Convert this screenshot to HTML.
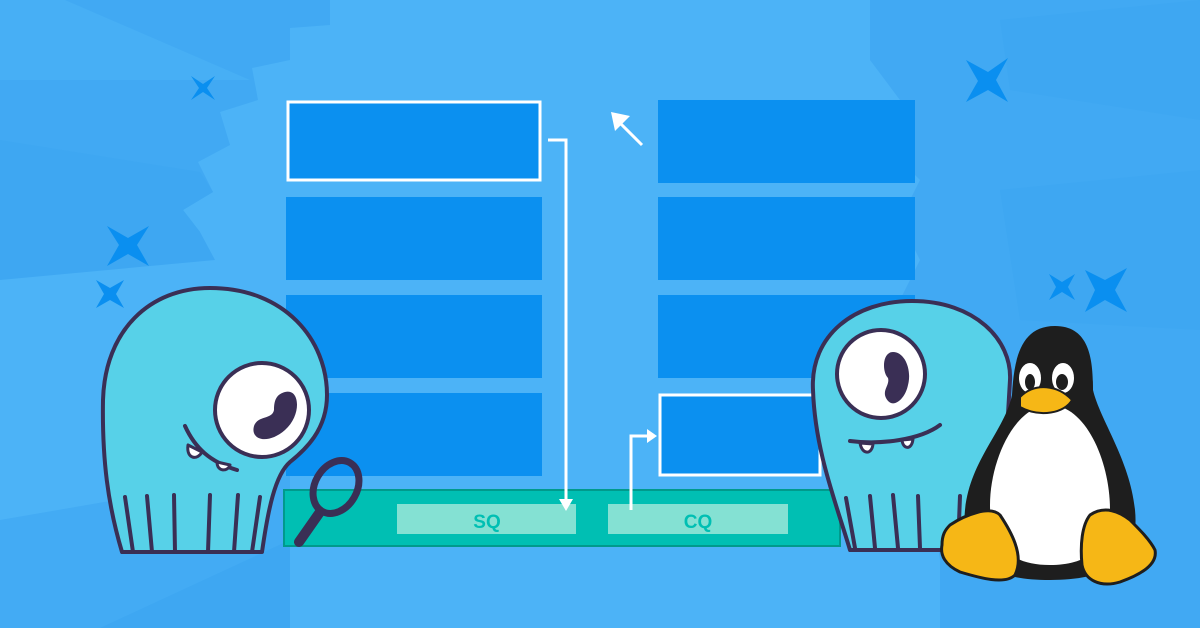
<!DOCTYPE html>
<html><head><meta charset="utf-8"><style>
html,body{margin:0;padding:0;width:1200px;height:628px;overflow:hidden;background:#4db3f7}
svg{display:block}
text{font-family:"Liberation Sans",sans-serif;font-weight:bold}
</style></head><body>
<svg width="1200" height="628" viewBox="0 0 1200 628" xmlns="http://www.w3.org/2000/svg">
<rect width="1200" height="628" fill="#4cb3f7"/>
<polygon points="0,0 330,0 330,25 290,28 290,60 252,68 258,100 220,112 230,145 198,162 213,192 183,210 200,232 0,190" fill="#41a9f3"/>
<polygon points="0,0 65,0 250,80 0,80" fill="#47aff5"/>
<polygon points="0,140 200,172 213,192 183,210 200,232 215,260 0,280" fill="#3ea7f2"/>
<polygon points="0,628 0,520 290,470 290,628" fill="#43abf4"/>
<polygon points="100,628 290,540 290,628" fill="#3ea7f2"/>
<polygon points="870,0 1200,0 1200,628 940,628 940,560 900,300 920,260 900,220 920,180 880,140 900,100 870,60" fill="#41a9f3"/>
<polygon points="1000,190 1200,170 1200,330 1020,320" fill="#3ea7f2"/>
<polygon points="1000,20 1200,0 1200,120 1010,90" fill="#3ea7f2"/>
<g fill="#0a8ff0">
<path d="M191,76 L203,84 L215,76 L207,88 L215,100 L203,92 L191,100 L199,88Z"/>
<path d="M107,226 L128,238 L149,226 L137,245 L149,266 L128,254 L107,266 L119,245Z"/>
<path d="M96,280 L110,288 L124,280 L116,294 L124,308 L110,300 L96,308 L104,294Z"/>
<path d="M966,60 L988,72 L1008,58 L996,80 L1008,102 L988,90 L966,102 L978,81Z"/>
<path d="M1049,274 L1062,282 L1075,274 L1068,287 L1075,300 L1062,292 L1049,300 L1056,287Z"/>
<path d="M1085,270 L1105,280 L1127,268 L1115,290 L1127,312 L1105,300 L1085,312 L1095,290Z"/>
</g>
<g fill="#0b90f0">
<rect x="288" y="102" width="252" height="78" stroke="#fff" stroke-width="3"/>
<rect x="286" y="197" width="256" height="83"/>
<rect x="286" y="295" width="256" height="83"/>
<rect x="286" y="393" width="256" height="83"/>
<rect x="658" y="100" width="257" height="83"/>
<rect x="658" y="197" width="257" height="83"/>
<rect x="658" y="295" width="257" height="83"/>
<rect x="660" y="395" width="160" height="80" stroke="#fff" stroke-width="3"/>
</g>
<rect x="284" y="490" width="556" height="56" fill="#00bfb3" stroke="#009a8c" stroke-width="2"/>
<rect x="397" y="504" width="179" height="30" fill="#84e1d3"/>
<rect x="608" y="504" width="180" height="30" fill="#84e1d3"/>
<text x="487" y="528" font-size="19" fill="#00bfb3" text-anchor="middle">SQ</text>
<text x="698" y="528" font-size="19" fill="#00bfb3" text-anchor="middle">CQ</text>
<g stroke="#fff" stroke-width="3" fill="none">
<polyline points="548,140 566,140 566,500"/>
<polyline points="631,510 631,436 648,436"/>
<line x1="642" y1="145" x2="620" y2="123"/>
</g>
<g fill="#fff">
<polygon points="559,499 573,499 566,511"/>
<polygon points="647,429 647,443 657,436"/>
<polygon points="611,112 630,116 615,131"/>
</g>
<!-- left octopus -->
<g stroke="#3a2f55" stroke-width="4" stroke-linejoin="round" stroke-linecap="round">
<path d="M210,288 C285,288 327,340 327,395 C327,430 305,450 290,462 C275,475 268,510 262,552 L122,552 C108,505 102,460 103,400 C105,330 150,288 210,288Z" fill="#57d1e8"/>
<g fill="none"><line x1="125" y1="497" x2="133" y2="552"/><line x1="147" y1="496" x2="152" y2="552"/><line x1="174" y1="495" x2="175" y2="552"/><line x1="210" y1="495" x2="208" y2="552"/><line x1="238" y1="495" x2="234" y2="552"/><line x1="260" y1="497" x2="252" y2="552"/></g>
<circle cx="262" cy="410" r="47" fill="#fff"/>
<path d="M185,426 C195,448 210,462 237,470" fill="none"/>
<path d="M188,445 C186,460 198,460 202,452Z" fill="#fff" stroke-width="3"/>
<path d="M217,462 C217,472 228,472 230,465Z" fill="#fff" stroke-width="3"/>
<ellipse cx="336" cy="487" rx="21" ry="28" fill="none" stroke-width="7" transform="rotate(30 336 487)"/>
<line x1="320" y1="512" x2="299" y2="542" stroke-width="10"/>
</g>
<path d="M285,392 C300,388 302,415 285,430 C268,445 250,440 254,426 C258,415 272,420 274,410 C274,398 278,394 285,392Z" fill="#3a2f55"/>
<!-- right octopus -->
<g stroke="#3a2f55" stroke-width="4" stroke-linejoin="round" stroke-linecap="round">
<path d="M912,301 C975,301 1012,340 1010,380 L1000,550 L850,550 C835,500 815,450 813,390 C810,335 855,301 912,301Z" fill="#57d1e8"/>
<g fill="none"><line x1="846" y1="498" x2="855" y2="548"/><line x1="870" y1="496" x2="875" y2="548"/><line x1="893" y1="495" x2="898" y2="548"/><line x1="918" y1="496" x2="920" y2="548"/><line x1="960" y1="496" x2="958" y2="548"/></g>
<circle cx="881" cy="374" r="44" fill="#fff"/>
<path d="M850,441 C880,445 920,440 940,425" fill="none"/>
<path d="M860,443 C862,455 872,455 873,444Z" fill="#fff" stroke-width="3"/>
<path d="M902,440 C903,450 912,450 913,439Z" fill="#fff" stroke-width="3"/>
</g>
<path d="M893,352 C905,352 912,370 908,385 C905,400 892,410 886,398 C882,390 890,385 888,378 C882,372 882,352 893,352Z" fill="#3a2f55"/>
<!-- penguin -->
<path d="M1055,326 C1090,326 1093,360 1093,390 C1100,420 1130,460 1135,510 C1140,560 1110,580 1050,580 C990,580 960,560 965,510 C970,460 1005,430 1012,395 C1014,360 1020,326 1055,326Z" fill="#1e1e1e"/>
<path d="M1050,405 C1085,405 1110,460 1110,510 C1110,550 1085,565 1050,565 C1010,565 990,545 990,505 C990,460 1015,405 1050,405Z" fill="#fff"/>
<ellipse cx="1030" cy="378" rx="11" ry="15" fill="#fff"/><ellipse cx="1063" cy="378" rx="11" ry="15" fill="#fff"/>
<ellipse cx="1030" cy="382" rx="5" ry="8" fill="#1e1e1e"/><ellipse cx="1062" cy="382" rx="6" ry="8" fill="#1e1e1e"/>
<path d="M1020,397 C1035,382 1058,385 1072,400 C1065,413 1040,418 1020,407Z" fill="#f6b716" stroke="#1e1e1e" stroke-width="2"/>
<g fill="#f6b716" stroke="#1e1e1e" stroke-width="3" stroke-linejoin="round">
<path d="M950,525 C965,515 990,505 1000,515 C1010,530 1025,555 1015,575 C1005,585 980,578 960,572 C945,565 940,555 942,545 C942,535 945,530 950,525Z"/>
<path d="M1090,515 C1105,505 1120,512 1130,520 C1140,530 1150,540 1155,550 C1158,565 1140,575 1120,582 C1100,588 1085,580 1082,565 C1080,545 1082,525 1090,515Z"/>
</g>
</svg>
</body></html>
